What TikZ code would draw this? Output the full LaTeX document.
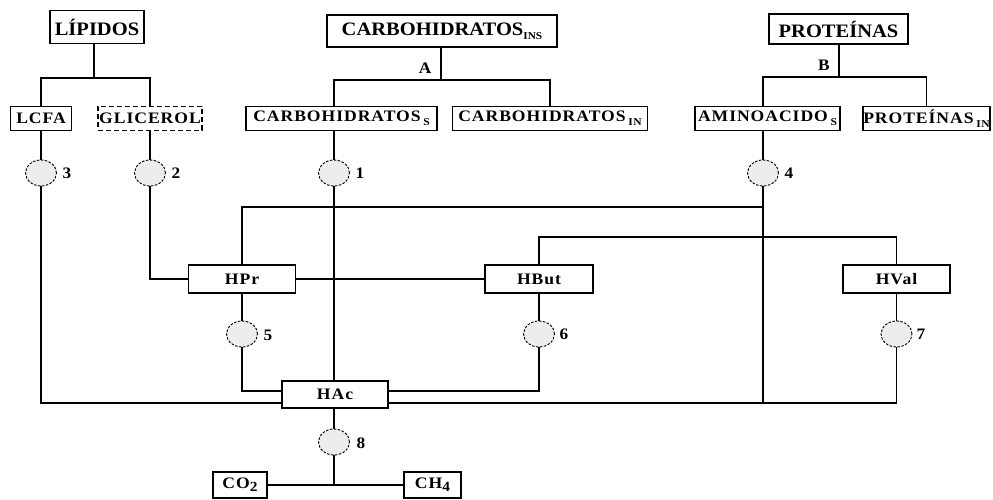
\documentclass[tikz,border=0pt]{standalone}
\usepackage{fontspec}
\setmainfont{Liberation Serif}
\newfontfamily\topf{Liberation Serif}[FakeStretch=1.08]
\newfontfamily\subf{Liberation Serif}[FakeStretch=1.1,LetterSpace=6]
\usetikzlibrary{shapes.geometric}
\newcommand{\sbs}[1]{\raisebox{-0.5ex}{\fontsize{10.5}{10.5}\selectfont #1}}
\newcommand{\sbn}[1]{\raisebox{-0.45ex}{\fontsize{14}{14}\selectfont #1}}
\begin{document}
\begin{tikzpicture}[x=1pt,y=-1pt,
  ln/.style={line width=1.2pt},
  topbox/.style={draw,line width=1.2pt,inner sep=0pt,font=\topf\bfseries\fontsize{19}{19}\selectfont},
  subbox/.style={draw,line width=1.2pt,inner sep=0pt,font=\subf\bfseries\fontsize{16}{16}\selectfont},
  proc/.style={ellipse,draw,line width=0.9pt,dash pattern=on 2.5pt off 1.5pt,fill=black!7,minimum width=31pt,minimum height=26pt,inner sep=0pt},
  num/.style={font=\topf\bfseries\fontsize{16}{16}\selectfont,inner sep=0pt}]
\useasboundingbox (0,0) rectangle (993,500);
% top boxes
\node[topbox,minimum width=94pt,minimum height=33pt] (lip) at (97,27) {LÍPIDOS};
\node[topbox,minimum width=230pt,minimum height=32pt] (cins) at (442,31) {CARBOHIDRATOS\sbs{INS}};
\node[topbox,minimum width=139pt,minimum height=30pt] (prot) at (838.5,29) {PROTEÍNAS};
% second level
\node[subbox,minimum width=61pt,minimum height=24pt] (lcfa) at (41,118.5) {LCFA};
\node[subbox,dash pattern=on 5pt off 3pt,minimum width=104pt,minimum height=24pt] (gli) at (150,118.5) {GLICEROL};
\node[subbox,minimum width=191pt,minimum height=24pt] (cs) at (341.5,118.5) {CARBOHIDRATOS\,\sbs{S}};
\node[subbox,minimum width=195pt,minimum height=24pt] (cin) at (550,118.5) {CARBOHIDRATOS\,\sbs{IN}};
\node[subbox,minimum width=145pt,minimum height=24pt] (am) at (767.5,118.5) {AMINOACIDO\,\sbs{S}};
\node[subbox,minimum width=127pt,minimum height=24pt] (pin) at (926.5,118.5) {PROTEÍNAS\,\sbs{IN}};
% acids
\node[subbox,minimum width=107pt,minimum height=28pt] (hpr) at (242,279) {HPr};
\node[subbox,minimum width=108pt,minimum height=28pt] (hbut) at (539,279) {HBut};
\node[subbox,minimum width=107pt,minimum height=28pt] (hval) at (896.5,279) {HVal};
\node[subbox,minimum width=106pt,minimum height=27pt] (hac) at (335,394.5) {HAc};
\node[subbox,minimum width=54pt,minimum height=26pt] (co2) at (240,485) {CO\sbn{2}};
\node[subbox,minimum width=57pt,minimum height=26pt] (ch4) at (432.5,485) {CH\sbn{4}};
% process circles
\node[proc] (c3) at (41,173) {};
\node[proc] (c2) at (150,173) {};
\node[proc] (c1) at (334,173) {};
\node[proc] (c4) at (763,173) {};
\node[proc] (c5) at (242,334) {};
\node[proc] (c6) at (539,334) {};
\node[proc] (c7) at (896.5,334) {};
\node[proc] (c8) at (334,442) {};
\node[num] (n3) at (67,173) {3};
\node[num] (n2) at (176,173) {2};
\node[num] (n1) at (360,173) {1};
\node[num] (n4) at (789,173) {4};
\node[num] (n5) at (268,335) {5};
\node[num] (n6) at (564,334) {6};
\node[num] (n7) at (921,334) {7};
\node[num] (n8) at (361,443) {8};
\node[num] (la) at (425,68) {A};
\node[num] (lb) at (824,65) {B};
% junction coordinates
\coordinate (jL) at (94,78);
\coordinate (jA) at (441,80);
\coordinate (jP) at (839,77);
\coordinate (y207) at (0,207);
\coordinate (y237) at (0,237);
\coordinate (y391) at (0,391);
\coordinate (yb) at (0,403);
% lipids
\draw[ln] (jL |- lip.south) -- (jL);
\draw[ln] (lcfa.north) |- (jL) -| (gli.north);
\draw[ln] (lcfa.south) -- (c3.north);
\draw[ln] (gli.south -| c2) -- (c2.north);
\draw[ln] (c3.south) |- (hac.west |- yb);
\draw[ln] (c2.south) |- (hpr.west);
% carbohydrates
\draw[ln] (jA |- cins.south) -- (jA);
\draw[ln] (c1 |- cs.north) |- (jA) -| (cin.north);
\draw[ln] (c1 |- cs.south) -- (c1.north);
\draw[ln] (c1.south) -- (c1 |- hac.north);
% proteins
\draw[ln] (jP |- prot.south) -- (jP);
\draw[ln] (c4 |- am.north) |- (jP) -| (pin.north);
\draw[ln] (c4 |- am.south) -- (c4.north);
\draw[ln] (c4.south) -- (c4 |- yb);
\draw[ln] (c4 |- y207) -| (hpr.north);
% acids
\draw[ln] (hpr.east) -- (hbut.west);
\draw[ln] (hbut.north) |- (hval.north |- y237) -- (hval.north);
\draw[ln] (hpr.south) -- (c5.north);
\draw[ln] (c5.south) |- (hac.west |- y391);
\draw[ln] (hbut.south) -- (c6.north);
\draw[ln] (c6.south) |- (hac.east |- y391);
\draw[ln] (hval.south) -- (c7.north);
\draw[ln] (c7.south) |- (hac.east |- yb);
\draw[ln] (c1 |- hac.south) -- (c8.north);
\draw[ln] (c8.south) -- (c8 |- co2.east);
\draw[ln] (co2.east) -- (ch4.west);
\end{tikzpicture}
\end{document}
